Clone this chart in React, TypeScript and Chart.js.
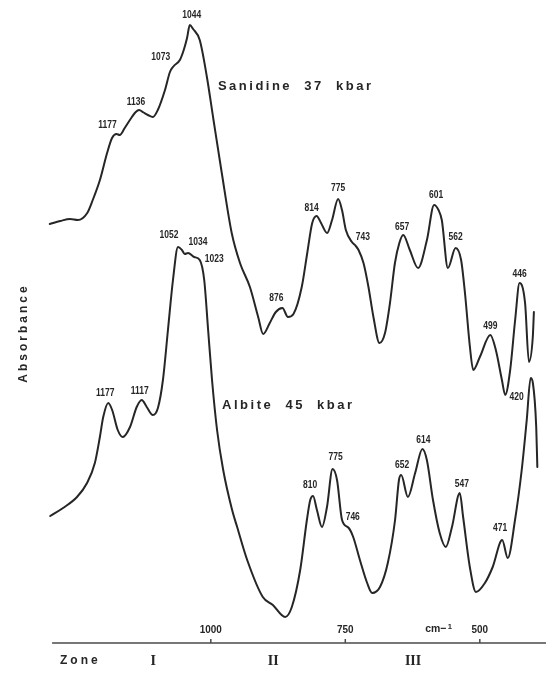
import React, { useEffect, useRef } from "react";
import { Chart, registerables } from "chart.js";

Chart.register(...registerables);

// Sanidine, 37 kbar (wavenumber in cm-1, absorbance in arbitrary units, stacked above albite)
const sanidineWavenumbers = [
  1298, 1279, 1261, 1247, 1230, 1220, 1207, 1194, 1185, 1177, 1171, 1162, 1149, 1142, 1136,
  1128, 1120, 1111, 1102, 1089, 1080, 1073, 1062, 1055, 1049, 1044, 1038, 1026, 1013, 1001,
  986, 968, 953, 935, 920, 911, 899, 888, 876, 866, 856, 841, 831, 822, 814, 806, 795, 786,
  775, 768, 761, 750, 743, 738, 729, 720, 711, 700, 690, 681, 672, 664, 657, 645, 630, 614,
  601, 593, 587, 576, 562, 552, 545, 536, 530, 518, 499, 489, 478, 472, 463, 454, 446, 436,
  429, 422, 420,
];
const sanidineAbsorbance = [
  4.26, 4.29, 4.31, 4.3, 4.37, 4.5, 4.7, 4.97, 5.12, 5.16, 5.15, 5.22, 5.33, 5.38, 5.4,
  5.375, 5.35, 5.33, 5.4, 5.6, 5.78, 5.84, 5.9, 6.0, 6.12, 6.25, 6.21, 6.1, 5.73, 5.3,
  4.77, 4.17, 3.87, 3.63, 3.33, 3.16, 3.27, 3.38, 3.42, 3.33, 3.36, 3.63, 3.97, 4.27, 4.34, 4.27, 4.17, 4.3,
  4.51, 4.4, 4.2, 4.08, 4.04, 4.0, 3.87, 3.63, 3.33, 3.07, 3.17, 3.47, 3.87, 4.07, 4.15, 4.0, 3.82, 4.1,
  4.45, 4.4, 4.3, 3.82, 4.02, 3.9, 3.57, 3.03, 2.8, 2.93, 3.15, 3.0, 2.7, 2.55, 2.8, 3.3, 3.67, 3.47,
  2.88, 3.13, 3.38,
];
const sanidinePeaks = [1177, 1136, 1073, 1044, 876, 814, 775, 743, 657, 601, 562, 499, 446];

// Albite, 45 kbar
const albiteWavenumbers = [
  1281, 1258, 1233, 1215, 1201, 1192, 1186, 1177, 1170, 1160, 1151, 1138, 1126, 1117, 1108,
  1097, 1088, 1079, 1070, 1061, 1052, 1045, 1040, 1034, 1023, 1013, 1005, 998, 991, 982, 971,
  955, 946, 928, 900, 882, 860, 848, 833, 821, 815, 810, 803, 794, 785, 775, 767, 758, 746,
  738, 726, 713, 704, 690, 676, 663, 656, 652, 640, 627, 614, 606, 595, 583, 572, 561, 547,
  541, 529, 518, 502, 488, 471, 461, 448, 436, 427, 420, 416, 410, 408,
];
const albiteAbsorbance = [
  1.34, 1.42, 1.53, 1.67, 1.87, 2.13, 2.33, 2.47, 2.4, 2.2, 2.13, 2.23, 2.43, 2.5, 2.43,
  2.35, 2.42, 2.7, 3.2, 3.7, 4.03, 4.0, 3.96, 3.97, 3.93, 3.9, 3.7, 3.2, 2.7, 2.2, 1.8,
  1.4, 1.23, 0.9, 0.53, 0.45, 0.33, 0.43, 0.8, 1.3, 1.5, 1.54, 1.4, 1.23, 1.43, 1.81, 1.7, 1.3, 1.22,
  1.13, 0.9, 0.67, 0.57, 0.63, 0.87, 1.3, 1.7, 1.75, 1.53, 1.77, 2.01, 1.9, 1.5, 1.17, 1.03, 1.23, 1.57,
  1.33, 0.83, 0.58, 0.67, 0.83, 1.1, 0.92, 1.3, 1.8, 2.3, 2.72, 2.67, 2.23, 1.83,
];
const albitePeaks = [1177, 1117, 1052, 1034, 1023, 810, 775, 746, 652, 614, 547, 471, 420];

// Wavenumber axis and spectral zones
const axisTicks = [1000, 750, 500];
const axisSpan = [1295, 377];
const zoneNames = ["I", "II", "III"];
const zoneCentres = [1107, 884, 624];

// Where each peak number sits relative to its peak (px)
const sanidineLabelOffsets = [
  [-9, -9], [-3, -8], [-13, -9], [2, -10], [-6, -10], [-5, -8], [0, -11],
  [7, -9], [-1, -8], [2, -10], [0, -11], [0, -9], [0, -9],
];
const albiteLabelOffsets = [
  [-3, -10], [-2, -9], [-9, -12], [10, -11], [20, 2], [-3, -11], [3, -12],
  [4, -11], [1, -10], [1, -9], [2, -9], [-2, -12], [-14, 19],
];
// Anchors of the spectrum names (wavenumber, absorbance)
const sanidineNameAt = [993, 5.64];
const albiteNameAt = [973, 2.45];

const SANS = '"Liberation Sans", Arial, Helvetica, sans-serif';
const SERIF = '"Liberation Serif", "Times New Roman", serif';
const INK = "#262626";

function narrowText(ctx: CanvasRenderingContext2D, text: string, x: number, y: number, size: number, squeeze: number) {
  ctx.save();
  ctx.translate(x, y);
  ctx.scale(squeeze, 1);
  ctx.font = `bold ${size}px ${SANS}`;
  ctx.textAlign = "center";
  ctx.textBaseline = "middle";
  ctx.fillText(text, 0, 0);
  ctx.restore();
}

function spacedText(ctx: CanvasRenderingContext2D, text: string, x: number, y: number, size: number, spacing: number) {
  ctx.save();
  ctx.font = `bold ${size}px ${SANS}`;
  (ctx as any).letterSpacing = `${spacing}px`;
  ctx.textAlign = "left";
  ctx.textBaseline = "middle";
  ctx.fillText(text, x, y);
  ctx.restore();
}

const spectrumDecorations = {
  id: "spectrumDecorations",
  afterDatasetsDraw(chart: any) {
    const { ctx, chartArea, scales } = chart;
    const yScale = scales.y;
    ctx.save();
    ctx.fillStyle = INK;
    ctx.strokeStyle = INK;

    const peakLabels = (scaleId: string, wn: number[], ab: number[], peaks: number[], offsets: number[][]) => {
      const xs = scales[scaleId];
      peaks.forEach((p, i) => {
        const idx = wn.indexOf(p);
        const px = xs.getPixelForValue(p);
        const py = yScale.getPixelForValue(ab[idx]);
        narrowText(ctx, String(p), px + offsets[i][0], py + offsets[i][1], 10, 0.85);
      });
    };
    peakLabels("xSan", sanidineWavenumbers, sanidineAbsorbance, sanidinePeaks, sanidineLabelOffsets);
    peakLabels("xAlb", albiteWavenumbers, albiteAbsorbance, albitePeaks, albiteLabelOffsets);

    spacedText(ctx, "Sanidine  37  kbar", scales.xSan.getPixelForValue(sanidineNameAt[0]),
      yScale.getPixelForValue(sanidineNameAt[1]), 13, 2.5);
    spacedText(ctx, "Albite  45  kbar", scales.xAlb.getPixelForValue(albiteNameAt[0]),
      yScale.getPixelForValue(albiteNameAt[1]), 13, 2.5);

    // wavenumber axis
    const axis = scales.xAxis;
    const axisY = chartArea.bottom - 30;
    ctx.lineWidth = 1.5;
    ctx.strokeStyle = "#4a4a4a";
    ctx.beginPath();
    ctx.moveTo(axis.getPixelForValue(axisSpan[0]), axisY);
    ctx.lineTo(axis.getPixelForValue(axisSpan[1]), axisY);
    ctx.stroke();
    axisTicks.forEach((t) => {
      const x = axis.getPixelForValue(t);
      ctx.beginPath();
      ctx.moveTo(x, axisY);
      ctx.lineTo(x, axisY - 4);
      ctx.stroke();
      narrowText(ctx, String(t), x, axisY - 13, 11, 0.9);
    });
    const unitX = axis.getPixelForValue(500) - 41;
    narrowText(ctx, "cm\u2212", unitX - 3, axisY - 14, 11, 0.95);
    narrowText(ctx, "1", unitX + 11, axisY - 16, 8, 0.95);

    // zones
    spacedText(ctx, "Zone", 60, axisY + 18, 12, 3);
    ctx.font = `bold 14px ${SERIF}`;
    ctx.textAlign = "center";
    ctx.textBaseline = "middle";
    zoneNames.forEach((z, i) => {
      ctx.fillText(z, axis.getPixelForValue(zoneCentres[i]), axisY + 18);
    });

    // ordinate title
    ctx.save();
    ctx.translate(24, 333);
    ctx.rotate(-Math.PI / 2);
    ctx.font = `bold 12px ${SANS}`;
    (ctx as any).letterSpacing = "3px";
    ctx.textAlign = "center";
    ctx.textBaseline = "middle";
    ctx.fillText("Absorbance", 0, 0);
    ctx.restore();

    ctx.restore();
  },
};

const toPoints = (wn: number[], ab: number[]) => wn.map((w, i) => ({ x: w, y: ab[i] }));

export default function App() {
  const canvasRef = useRef<HTMLCanvasElement>(null);

  useEffect(() => {
    const lineStyle = {
      borderColor: INK,
      borderWidth: 2,
      pointRadius: 0,
      fill: false,
      cubicInterpolationMode: "monotone" as const,
      borderJoinStyle: "round" as const,
      borderCapStyle: "round" as const,
      yAxisID: "y",
    };
    const chart = new Chart(canvasRef.current!, {
      type: "line",
      data: {
        datasets: [
          { label: "Sanidine 37 kbar", data: toPoints(sanidineWavenumbers, sanidineAbsorbance), xAxisID: "xSan", ...lineStyle },
          { label: "Albite 45 kbar", data: toPoints(albiteWavenumbers, albiteAbsorbance), xAxisID: "xAlb", ...lineStyle },
        ],
      },
      options: {
        animation: false,
        responsive: false,
        devicePixelRatio: 1,
        layout: { padding: 0 },
        events: [],
        scales: {
          x: { type: "linear", display: false },
          xSan: { type: "linear", axis: "x", display: false, reverse: true, min: 392.6, max: 1388.2 },
          xAlb: { type: "linear", axis: "x", display: false, reverse: true, min: 387.1, max: 1371 },
          xAxis: { type: "linear", axis: "x", display: false, reverse: true, min: 371.4, max: 1391.8 },
          y: { type: "linear", display: false, min: -0.23, max: 6.5 },
        },
        plugins: {
          legend: { display: false },
          tooltip: { enabled: false },
          title: { display: false },
        },
      },
      plugins: [spectrumDecorations],
    } as any);
    return () => chart.destroy();
  }, []);

  return (
    <div style={{ position: "absolute", left: 0, top: 0, width: 549, height: 673, background: "#fff" }}>
      <canvas ref={canvasRef} width={549} height={673} style={{ display: "block" }} />
    </div>
  );
}
